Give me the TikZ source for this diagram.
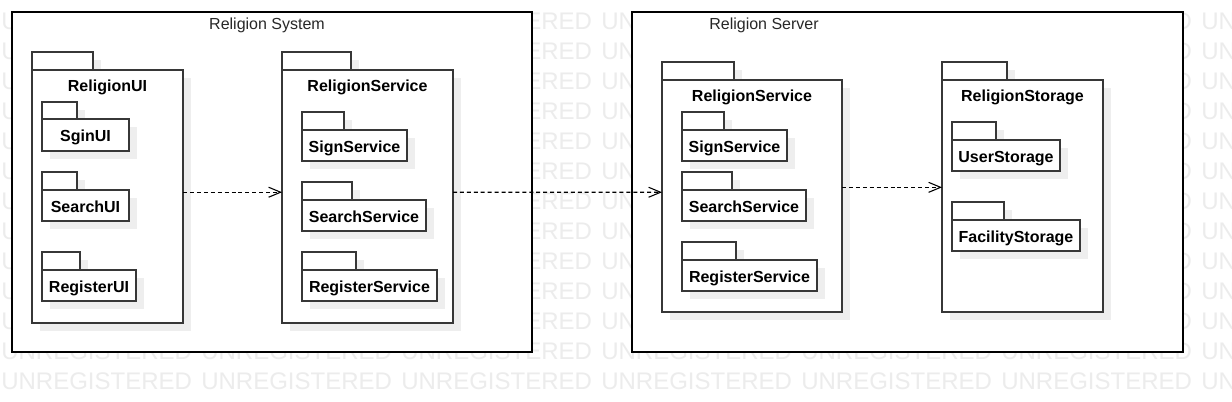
\documentclass[tikz,border=0pt]{standalone}
\usepackage{fontspec}
\setmainfont{Liberation Sans}
\usetikzlibrary{arrows.meta}
\definecolor{wm}{RGB}{236,236,236}
\definecolor{shadowc}{RGB}{238,238,238}
\definecolor{pkgc}{RGB}{55,55,55}
\definecolor{titlec}{RGB}{40,40,40}
\tikzset{
  pkgline/.style={draw=pkgc, line width=1pt},
  pkgbody/.style={pkgline, fill=white, inner sep=0pt, outer sep=0pt, anchor=center,
    text height=10.2pt, text depth=0pt,
    font=\fontsize{12pt}{14pt}\selectfont\bfseries},
  biglabel/.style={inner sep=0pt, anchor=center, font=\fontsize{12pt}{14pt}\selectfont\bfseries},
  framebox/.style={draw=black, line width=1.1pt, fill=white, inner sep=0pt, outer sep=0pt, anchor=center},
  frametitle/.style={inner sep=0pt, anchor=center, text=titlec, font=\fontsize{12pt}{14pt}\selectfont},
  wmtext/.style={anchor=base west, inner sep=0pt, text=wm, font=\fontsize{18pt}{20pt}\selectfont},
  dep/.style={draw=black, line width=0.8pt, dash pattern=on 3pt off 2.2pt,
    -{Straight Barb[length=9pt,width=7.5pt]}}
}
% #1 name, #2 left x, #3 tab top, #4 body top, #5 tab right, #6 body right, #7 bottom, #8 text
\newcommand{\pkgshape}[8]{%
  \fill[shadowc] (#2+8,#3+8) rectangle (#5+8,#4+8);
  \fill[shadowc] (#2+8,#4+8) rectangle (#6+8,#7+8);
  \draw[pkgline,fill=white] (#2,#3) rectangle (#5,#4);
  \node[pkgbody, minimum width={(#6-#2)*0.75pt}, minimum height={(#7-#4)*0.75pt}]
    (#1) at ({(#2+#6)/2},{(#4+#7)/2}) {#8};
}
\begin{document}
\begin{tikzpicture}[x=0.75pt, y=-0.75pt]
\clip (0,0) rectangle (1232,402);
\fill[white] (0,0) rectangle (1232,402);
% watermark
\foreach \r in {0,...,12}{
  \foreach \k in {0,...,6}{
    \node[wmtext] (wm-\r-\k) at ({1+200*\k},{30+30*\r}) {UNREGISTERED};
  }
}
% frames
\node[framebox, minimum width=390pt, minimum height=255pt] (sys) at (272,182) {};
\node[frametitle] (sysT) at (267,25) {Religion System};
\node[framebox, minimum width=413.25pt, minimum height=255pt] (srv) at (907.5,182) {};
\node[frametitle] (srvT) at (764,25) {Religion Server};

% ReligionUI
\pkgshape{ui}{32}{52}{70}{93}{183}{323}{}
\node[biglabel] (uiL) at ([yshift=-12.75pt]ui.north) {ReligionUI};
\pkgshape{sgin}{42}{102}{119}{77}{129}{151}{SginUI}
\pkgshape{search}{42}{172}{190}{77}{129}{221}{SearchUI}
\pkgshape{reg}{42}{252}{270}{80}{136}{301}{RegisterUI}

% ReligionService (system)
\pkgshape{svc}{282}{52}{70}{351}{453}{323}{}
\node[biglabel] (svcL) at ([yshift=-12.75pt]svc.north) {ReligionService};
\pkgshape{sign}{302}{112}{130}{344}{407}{161}{SignService}
\pkgshape{ssearch}{302}{182}{200}{352}{426}{231}{SearchService}
\pkgshape{sreg}{302}{252}{270}{356}{437}{301}{RegisterService}

% ReligionService (server)
\pkgshape{rsvc}{662}{62}{80}{734}{842}{312}{}
\node[biglabel] (rsvcL) at ([yshift=-12.75pt]rsvc.north) {ReligionService};
\pkgshape{rsign}{682}{112}{130}{724}{787}{161}{SignService}
\pkgshape{rsearch}{682}{172}{190}{732}{806}{221}{SearchService}
\pkgshape{rreg}{682}{242}{260}{736}{817}{291}{RegisterService}

% ReligionStorage
\pkgshape{stor}{942}{62}{80}{1007}{1103}{312}{}
\node[biglabel] (storL) at ([yshift=-12.75pt]stor.north) {ReligionStorage};
\pkgshape{user}{952}{122}{140}{996}{1060}{171}{UserStorage}
\pkgshape{fac}{952}{202}{220}{1004}{1080}{251}{FacilityStorage}

% dependencies
\draw[dep] ([yshift=3.2pt]ui.east) -- ([yshift=3.2pt]svc.west);
\draw[dep] ([yshift=3.2pt]svc.east) -- ([yshift=2.8pt]rsvc.west);
\draw[dep] ([yshift=6.5pt]rsvc.east) -- ([yshift=6.5pt]stor.west);
\end{tikzpicture}
\end{document}
